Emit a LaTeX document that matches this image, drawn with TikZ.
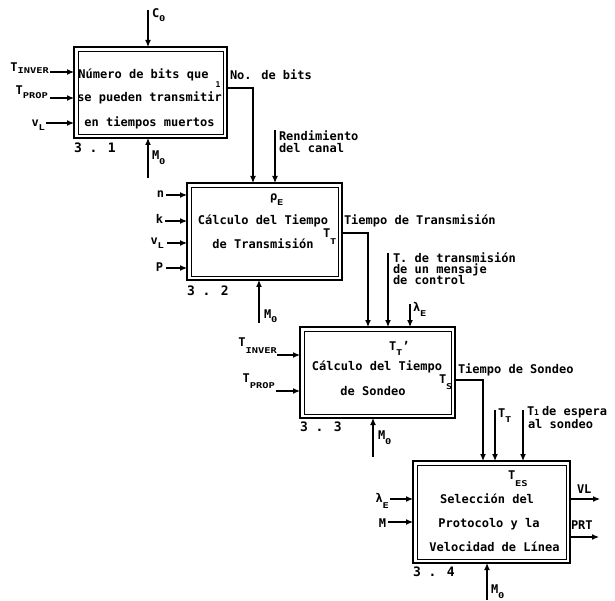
\documentclass[tikz,border=0pt]{standalone}
\usepackage{fontspec}
\usepackage{graphicx}
\setmainfont{DejaVu Sans Mono}
\usetikzlibrary{arrows.meta}
\newcommand{\sbx}[2][3pt]{\raisebox{-#1}{\fontsize{8}{8}\selectfont\scalebox{1.3}[1]{#2}}}
\newcommand{\sbn}[2][3pt]{\raisebox{-#1}{\fontsize{8}{8}\selectfont #2}}
\begin{document}
\begin{tikzpicture}[x=1pt,y=-1pt,
  every node/.style={inner sep=0pt,outer sep=0pt},
  txt/.style={font=\bfseries\fontsize{12}{12}\selectfont,anchor=base},
  labw/.style={font=\bfseries\fontsize{12}{12}\selectfont,anchor=base west},
  labe/.style={font=\bfseries\fontsize{12}{12}\selectfont,anchor=base east},
  num/.style={font=\bfseries\fontsize{13}{13}\selectfont,anchor=base west},
  bx/.style={draw,line width=1.8pt,anchor=north west},
  inbox/.style={line width=0.8pt},
  arr/.style={line width=1.2pt,-{Latex[length=7pt,width=6pt]}}]
\useasboundingbox (0,0) rectangle (615,601);

% ---------- boxes ----------
\node[bx,minimum width=153pt,minimum height=91pt] (b1) at (74,47) {};
\node[bx,minimum width=155pt,minimum height=97pt] (b2) at (187,183) {};
\node[bx,minimum width=155pt,minimum height=91pt] (b3) at (300,327) {};
\node[bx,minimum width=157pt,minimum height=102pt] (b4) at (413,461) {};
\foreach \b in {b1,b2,b3,b4}
  \draw[inbox] ([shift={(4,4)}]\b.north west) rectangle ([shift={(-4,-4)}]\b.south east);

% ---------- box 3.1 ----------
\node[txt] (t11) at (143.5,79) {Número de bits que};
\node[txt] (t12) at (149.5,102) {se pueden transmitir};
\node[txt] (t13) at (149.5,127) {en tiempos muertos};
\node[font=\bfseries\fontsize{8}{8}\selectfont] (one) at (218,85) {1};
\node[num] (n1) at (74,153) {3 . 1};

\node[labe] (i11) at (49,72) {T\sbx[2pt]{INVER}};
\coordinate (a11) at (50,72);
\draw[arr] (a11) -- (a11 -| b1.west);
\node[labe] (i12) at (48,95) {T\sbx[4pt]{PROP}};
\coordinate (a12) at (50,98);
\draw[arr] (a12) -- (a12 -| b1.west);
\node[labe] (i13) at (45,127) {v\sbx[4pt]{L}};
\coordinate (a13) at (46,123);
\draw[arr] (a13) -- (a13 -| b1.west);

\coordinate (c1) at (148,10);
\draw[arr] (c1) -- (c1 |- b1.north);
\node[labw] (lc1) at (152,18) {C\sbx[4pt]{0}};
\coordinate (m1) at (148,178);
\draw[arr] (m1) -- (m1 |- b1.south);
\node[labw] (lm1) at (152,160) {M\sbx[5pt]{0}};

\coordinate (k1) at (253,88);
\draw[arr] (b1.east |- k1) -- (k1) -- (k1 |- b2.north);
\node[labw] (o1) at (230,80) {No. de bits};
\coordinate (r1) at (275,130);
\draw[arr] (r1) -- (r1 |- b2.north);
\node[labw] (rl1) at (279,141) {Rendimiento};
\node[labw] (rl2) at (279,153) {del canal};

% ---------- box 3.2 ----------
\node[labw] (rho) at (270,201) {ρ\sbx[5pt]{E}};
\node[txt] (t21) at (263,225) {Cálculo del Tiempo};
\node[txt] (t22) at (263,249) {de Transmisión};
\node[labw] (tt2) at (323,238) {T\sbx[7pt]{T}};
\node[num] (n2) at (187,296) {3 . 2};

\node[labe] (i21) at (164,198) {n};
\coordinate (a21) at (166,195);
\draw[arr] (a21) -- (a21 -| b2.west);
\node[labe] (i22) at (163,224) {k};
\coordinate (a22) at (165,221);
\draw[arr] (a22) -- (a22 -| b2.west);
\node[labe] (i23) at (164,245) {v\sbx[4pt]{L}};
\coordinate (a23) at (167,243);
\draw[arr] (a23) -- (a23 -| b2.west);
\node[labe] (i24) at (163,272) {P};
\coordinate (a24) at (166,268);
\draw[arr] (a24) -- (a24 -| b2.west);

\coordinate (m2) at (259,323);
\draw[arr] (m2) -- (m2 |- b2.south);
\node[labw] (lm2) at (264,318) {M\sbx[5pt]{0}};

\coordinate (k2) at (368,233);
\draw[arr] (b2.east |- k2) -- (k2) -- (k2 |- b3.north);
\node[labw] (o2) at (344,225) {Tiempo de Transmisión};
\coordinate (tc) at (388,253);
\draw[arr] (tc) -- (tc |- b3.north);
\node[labw] (tc1) at (393,263) {T. de transmisión};
\node[labw] (tc2) at (393,274) {de un mensaje};
\node[labw] (tc3) at (393,285) {de control};
\coordinate (le) at (410,304);
\draw[arr] (le) -- (le |- b3.north);
\node[labw] (lle) at (413,312) {λ\sbx[5pt]{E}};

% ---------- box 3.3 ----------
\node[labw] (tt3) at (389,350) {T\sbx[5pt]{T}'};
\node[txt] (t31) at (377,370) {Cálculo del Tiempo};
\node[txt] (t32) at (373,395) {de Sondeo};
\node[labw] (ts3) at (439,383) {T\sbx[6pt]{S}};
\node[num] (n3) at (300,431) {3 . 3};

\node[labe] (i31) at (277,346) {T\sbx[7pt]{INVER}};
\coordinate (a31) at (277,355);
\draw[arr] (a31) -- (a31 -| b3.west);
\node[labe] (i32) at (275,382) {T\sbx[6pt]{PROP}};
\coordinate (a32) at (276,391);
\draw[arr] (a32) -- (a32 -| b3.west);

\coordinate (m3) at (373,457);
\draw[arr] (m3) -- (m3 |- b3.south);
\node[labw] (lm3) at (378,439) {M\sbx[5pt]{0}};

\coordinate (k3) at (483,380);
\draw[arr] (b3.east |- k3) -- (k3) -- (k3 |- b4.north);
\node[labw] (o3) at (458,373) {Tiempo de Sondeo};
\coordinate (tt) at (495,410);
\draw[arr] (tt) -- (tt |- b4.north);
\node[labw] (ltt) at (498,417) {T\sbx[5pt]{T}};
\coordinate (t1) at (523,410);
\draw[arr] (t1) -- (t1 |- b4.north);
\node[labw] (lt1) at (527,415) {T\sbn[0pt]{1}};
\node[labw] (lt2) at (542,415) {de espera};
\node[labw] (lt3) at (528,428) {al sondeo};

% ---------- box 3.4 ----------
\node[labw] (tes) at (508,479) {T\sbx[7pt]{ES}};
\node[txt] (t41) at (487,503) {Selección del};
\node[txt] (t42) at (489,527) {Protocolo y la};
\node[txt] (t43) at (494.5,551) {Velocidad de Línea};
\node[num] (n4) at (413,576) {3 . 4};

\node[labe] (i41) at (389,502) {λ\sbx[6pt]{E}};
\coordinate (a41) at (390,499);
\draw[arr] (a41) -- (a41 -| b4.west);
\node[labe] (i42) at (386,527) {M};
\coordinate (a42) at (388,522);
\draw[arr] (a42) -- (a42 -| b4.west);

\coordinate (v1) at (600,499);
\draw[arr] (v1 -| b4.east) -- (v1);
\node[labw] (lv1) at (577,493) {VL};
\coordinate (v2) at (599,537);
\draw[arr] (v2 -| b4.east) -- (v2);
\node[labw] (lv2) at (571,529) {PRT};

\coordinate (m4) at (487,600);
\draw[arr] (m4) -- (m4 |- b4.south);
\node[labw] (lm4) at (491,593) {M\sbx[5pt]{0}};
\end{tikzpicture}
\end{document}
